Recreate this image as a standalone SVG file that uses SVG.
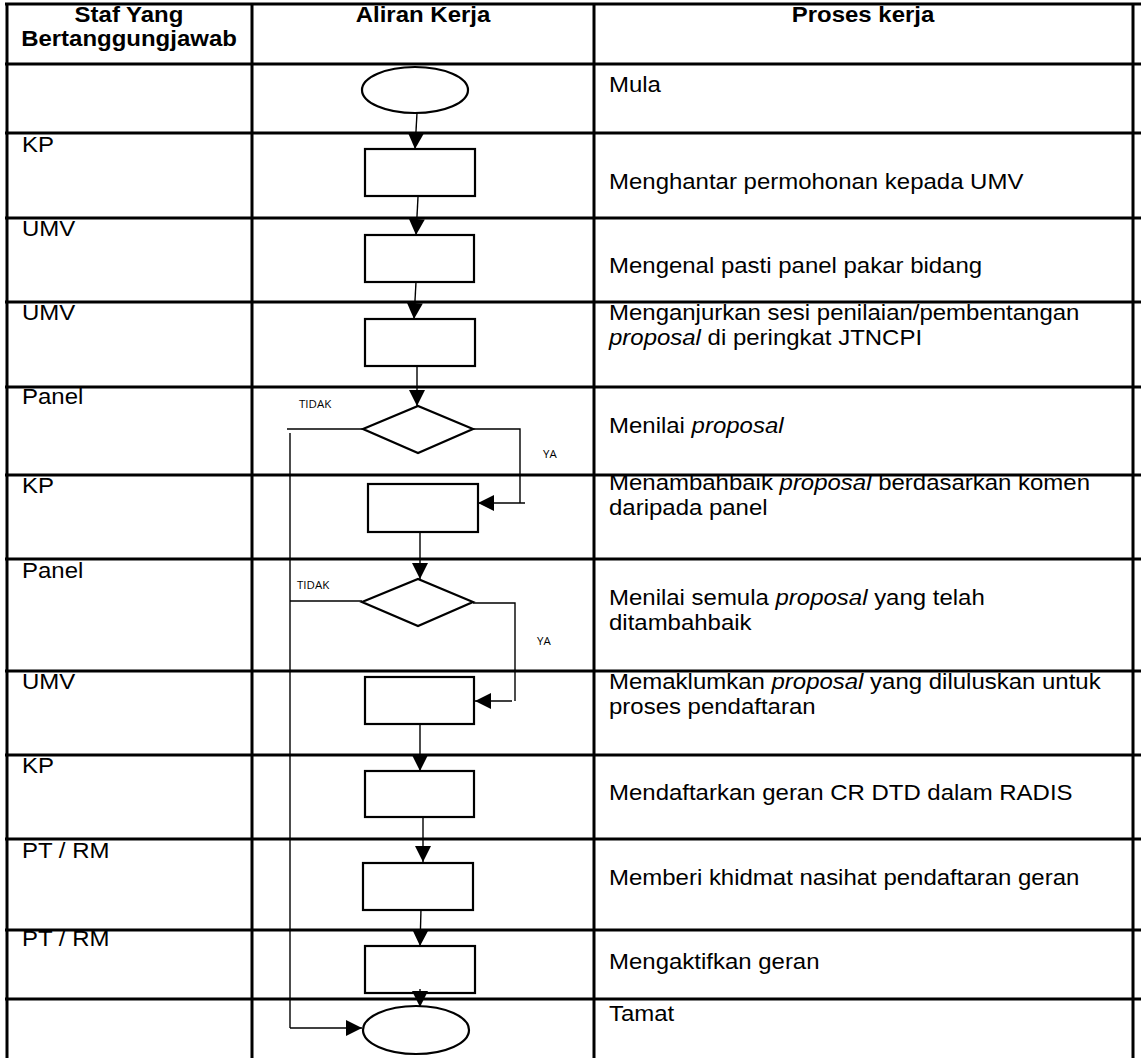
<svg xmlns="http://www.w3.org/2000/svg" width="1141" height="1058" viewBox="0 0 1141 1058">
<style>
.grid{stroke:#000;stroke-width:3;fill:none}
.shape{stroke:#000;stroke-width:2.2;fill:#fff}
.conn{stroke:#000;stroke-width:1.4;fill:none}
.t{font-family:"Liberation Sans",Arial,sans-serif;font-size:22px;fill:#000}
.h{font-family:"Liberation Sans",Arial,sans-serif;font-size:22px;font-weight:bold;fill:#000;text-anchor:middle}
.s{font-family:"Open Sans","Liberation Sans",sans-serif;font-size:11.5px;fill:#000}
</style>
<defs>
<marker id="ah" markerWidth="16" markerHeight="16" refX="16" refY="8" orient="auto" markerUnits="userSpaceOnUse">
<path d="M0,0 L16,8 L0,16 Z" fill="#000"/>
</marker>
</defs>
<rect width="1141" height="1058" fill="#fff"/>
<g id="table">
<line class="grid" x1="7" y1="3" x2="7" y2="1058"/>
<line class="grid" x1="252" y1="3" x2="252" y2="1058"/>
<line class="grid" x1="594" y1="3" x2="594" y2="1058"/>
<line class="grid" x1="1133" y1="3" x2="1133" y2="1058"/>
<line class="grid" x1="5" y1="4" x2="1141" y2="4"/>
<line class="grid" x1="5" y1="64" x2="1141" y2="64"/>
<line class="grid" x1="5" y1="133" x2="1141" y2="133"/>
<line class="grid" x1="5" y1="218" x2="1141" y2="218"/>
<line class="grid" x1="5" y1="302" x2="1141" y2="302"/>
<line class="grid" x1="5" y1="387" x2="1141" y2="387"/>
<line class="grid" x1="5" y1="475" x2="1141" y2="475"/>
<line class="grid" x1="5" y1="559" x2="1141" y2="559"/>
<line class="grid" x1="5" y1="671" x2="1141" y2="671"/>
<line class="grid" x1="5" y1="755" x2="1141" y2="755"/>
<line class="grid" x1="5" y1="839" x2="1141" y2="839"/>
<line class="grid" x1="5" y1="930" x2="1141" y2="930"/>
<line class="grid" x1="5" y1="999" x2="1141" y2="999"/>
</g>
<g id="headers">
<g transform="translate(129 0) scale(1.09 1)">
<text class="h" x="0" y="22">Staf Yang</text>
<text class="h" x="0" y="46">Bertanggungjawab</text>
</g>
<g transform="translate(423 0) scale(1.09 1)"><text class="h" x="0" y="22">Aliran Kerja</text></g>
<g transform="translate(863 0) scale(1.09 1)"><text class="h" x="0" y="22">Proses kerja</text></g>
</g>
<g id="staff" transform="translate(22 0) scale(1.09 1)">
<text class="t" x="0" y="152">KP</text>
<text class="t" x="0" y="236">UMV</text>
<text class="t" x="0" y="320">UMV</text>
<text class="t" x="0" y="404">Panel</text>
<text class="t" x="0" y="493">KP</text>
<text class="t" x="0" y="578">Panel</text>
<text class="t" x="0" y="689">UMV</text>
<text class="t" x="0" y="773">KP</text>
<text class="t" x="0" y="858">PT / RM</text>
<text class="t" x="0" y="946">PT / RM</text>
</g>
<g id="process" transform="translate(609 0) scale(1.09 1)">
<text class="t" x="0" y="92">Mula</text>
<text class="t" x="0" y="189">Menghantar permohonan kepada UMV</text>
<text class="t" x="0" y="273">Mengenal pasti panel pakar bidang</text>
<text class="t" x="0" y="320">Menganjurkan sesi penilaian/pembentangan</text>
<text class="t" x="0" y="345"><tspan font-style="italic">proposal</tspan> di peringkat JTNCPI</text>
<text class="t" x="0" y="433">Menilai <tspan font-style="italic">proposal</tspan></text>
<text class="t" x="0" y="490">Menambahbaik <tspan font-style="italic">proposal</tspan> berdasarkan komen</text>
<text class="t" x="0" y="515">daripada panel</text>
<text class="t" x="0" y="605">Menilai semula <tspan font-style="italic">proposal</tspan> yang telah</text>
<text class="t" x="0" y="630">ditambahbaik</text>
<text class="t" x="0" y="689">Memaklumkan <tspan font-style="italic">proposal</tspan> yang diluluskan untuk</text>
<text class="t" x="0" y="714">proses pendaftaran</text>
<text class="t" x="0" y="800">Mendaftarkan geran CR DTD dalam RADIS</text>
<text class="t" x="0" y="885">Memberi khidmat nasihat pendaftaran geran</text>
<text class="t" x="0" y="969">Mengaktifkan geran</text>
<text class="t" x="0" y="1021">Tamat</text>
</g>
<g id="start"><ellipse class="shape" cx="415" cy="90" rx="53" ry="23"/></g>
<g id="step1"><rect class="shape" x="365" y="149" width="110" height="47"/></g>
<g id="step2"><rect class="shape" x="365" y="235" width="109" height="47"/></g>
<g id="step3"><rect class="shape" x="365" y="319" width="110" height="47"/></g>
<g id="decision1"><polygon class="shape" points="363,429 418,406 473,429 418,453"/></g>
<g id="step4"><rect class="shape" x="368" y="484" width="110" height="48"/></g>
<g id="decision2"><polygon class="shape" points="362,602 418,579 473,602 418,626"/></g>
<g id="step5"><rect class="shape" x="365" y="677" width="109" height="47"/></g>
<g id="step6"><rect class="shape" x="365" y="771" width="109" height="46"/></g>
<g id="step7"><rect class="shape" x="363" y="863" width="110" height="47"/></g>
<g id="step8"><rect class="shape" x="365" y="946" width="110" height="47"/></g>
<g id="end"><ellipse class="shape" cx="416" cy="1030" rx="53" ry="24"/></g>
<g id="connectors">
<line class="conn" x1="417" y1="113" x2="415" y2="149" marker-end="url(#ah)"/>
<line class="conn" x1="418" y1="197" x2="416" y2="235" marker-end="url(#ah)"/>
<line class="conn" x1="416" y1="282" x2="414" y2="319" marker-end="url(#ah)"/>
<line class="conn" x1="417" y1="366" x2="417" y2="406" marker-end="url(#ah)"/>
<line class="conn" x1="363" y1="429" x2="287" y2="429"/>
<line class="conn" x1="290" y1="433" x2="290" y2="1028"/>
<polyline class="conn" points="473,429 520,429 520,503"/>
<line class="conn" x1="525" y1="503" x2="478" y2="503" marker-end="url(#ah)"/>
<line class="conn" x1="420" y1="532" x2="420" y2="579" marker-end="url(#ah)"/>
<line class="conn" x1="362" y1="601" x2="290" y2="601"/>
<polyline class="conn" points="473,603 515,603 515,701"/>
<line class="conn" x1="512" y1="701" x2="475" y2="701" marker-end="url(#ah)"/>
<line class="conn" x1="420" y1="724" x2="420" y2="771" marker-end="url(#ah)"/>
<line class="conn" x1="423" y1="817" x2="423" y2="862" marker-end="url(#ah)"/>
<line class="conn" x1="421" y1="909" x2="420" y2="946" marker-end="url(#ah)"/>
<line class="conn" x1="420" y1="989" x2="420" y2="1007" marker-end="url(#ah)"/>
<line class="conn" x1="290" y1="1028" x2="362" y2="1028" marker-end="url(#ah)"/>
<text class="s" x="299" y="408">TIDAK</text>
<text class="s" x="543" y="458">YA</text>
<text class="s" x="297" y="589">TIDAK</text>
<text class="s" x="537" y="645">YA</text>
</g>
</svg>
